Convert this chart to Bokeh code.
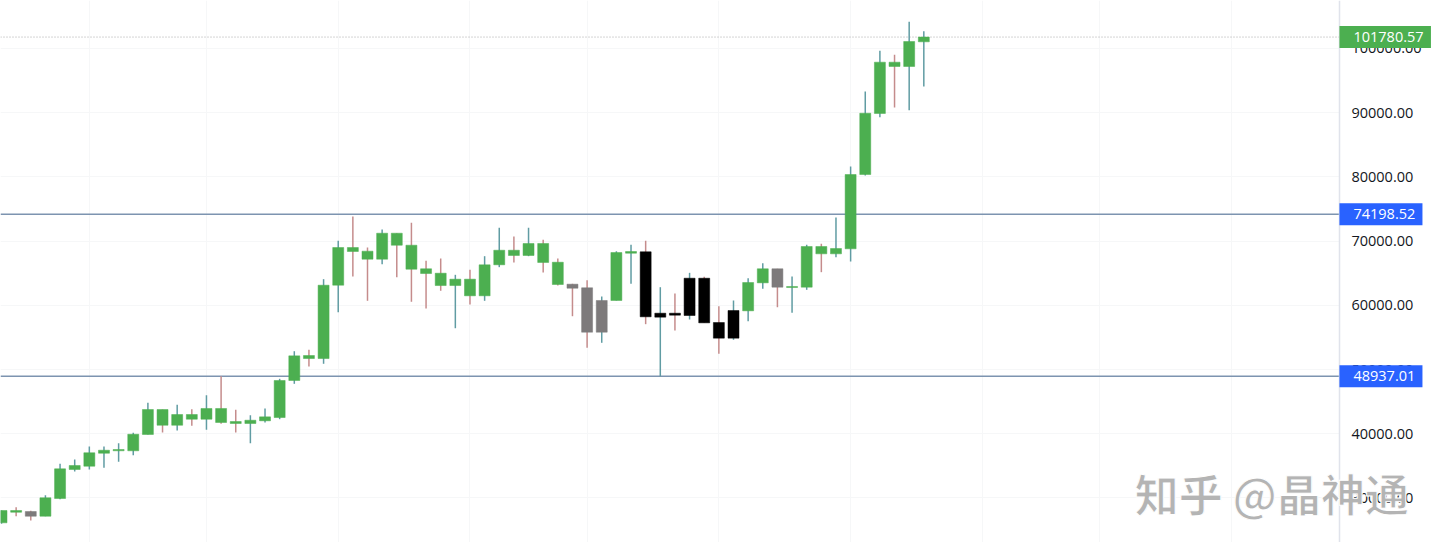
from bokeh.embed import file_html
from bokeh.models import BoxAnnotation, ColumnDataSource, FixedTicker, Label, LinearAxis, NumeralTickFormatter, Range1d, Span
from bokeh.plotting import figure
from bokeh.resources import INLINE

# body bottom / body top / wick high / wick low, one entry per candle
body_low = [26120, 27770, 27150, 27150, 29910, 34430, 34940, 36960, 37340, 37340,
            39880, 41320, 41320, 42260, 42260, 41750, 41590, 41590, 42010, 42520,
            48290, 51710, 51710, 63130, 68380, 67180, 67180, 69360, 65620, 64950,
            63080, 63080, 61480, 61480, 66310, 67760, 67760, 66670, 63240, 62660,
            55810, 55810, 60750, 68120, 58210, 58150, 58460, 58410, 57270, 54880,
            54880, 59140, 63500, 62820, 62770, 62820, 68020, 68020, 68800, 80370,
            89880, 97200, 97200, 101040]
body_high = [28040, 28040, 27880, 30020, 34530, 35050, 37030, 37430, 37540, 39920,
             43770, 43770, 42990, 42990, 43930, 43930, 41900, 42100, 42630, 48290,
             52130, 52180, 63130, 69000, 69000, 68430, 71230, 71230, 69360, 65690,
             65000, 64070, 64070, 66310, 68580, 68580, 69630, 69630, 66710, 63290,
             62730, 60750, 68220, 68380, 68330, 58770, 58770, 64220, 64220, 57320,
             59190, 63550, 65690, 65690, 62930, 69160, 69160, 68850, 80370, 89920,
             97870, 97870, 101090, 101780]
wick_high = [28040, 28550, 27990, 30420, 35310, 35980, 38010, 38010, 38520, 40140,
             44810, 43770, 44500, 43820, 46000, 48950, 43720, 42880, 43930, 48550,
             52850, 53070, 64070, 70050, 73830, 69000, 71810, 71230, 72850, 66930,
             67290, 64750, 65530, 67650, 72070, 70720, 72070, 70200, 67290, 63350,
             63910, 61370, 68430, 69420, 70050, 62820, 61840, 65060, 64440, 59860,
             60750, 64220, 66560, 65690, 64490, 69420, 69580, 73680, 81620, 93300,
             99640, 99020, 104160, 102690]
wick_low = [25970, 27150, 26480, 27150, 29800, 34110, 34430, 34690, 35620, 36650,
            39880, 40190, 40500, 41230, 40610, 41540, 40190, 38520, 41750, 42260,
            47770, 50470, 50890, 58930, 64490, 60700, 66400, 64380, 60550, 59500,
            62260, 56430, 60130, 60700, 65940, 66670, 67650, 65110, 63080, 58300,
            53380, 54160, 60750, 63350, 57060, 48940, 56080, 57790, 57270, 52450,
            54630, 57520, 62570, 59700, 58830, 62410, 65160, 67490, 66820, 80220,
            89300, 90810, 90390, 94080]
gray_candles = [2, 39, 40, 41, 53]
black_candles = [44, 45, 46, 47, 48, 49, 50]
red_wicks = [1, 2, 11, 13, 15, 16, 21, 24, 25, 27, 28, 29, 30, 32, 35, 37, 38, 39, 40,
             44, 46, 48, 49, 53, 56, 61]

price_ticks = [30000, 40000, 50000, 60000, 70000, 80000, 90000, 100000]
time_grid = [6, 14, 23, 32, 40, 49, 58, 67, 75, 84]
last_price = 101780.57
upper_level = 74198.52
lower_level = 48937.01

GREEN = "#4caf50"
BLUE = "#2962ff"
LEVEL = "#7d94b0"
GRID = "#f6f7f8"
FONT = "Open Sans"
AXIS_X = 91.39  # price scale sits over the frame, right of the last bars

idx = list(range(len(body_low)))
body_colors = []
for i in idx:
    if i in gray_candles:
        body_colors.append("#7d7a7b")
    elif i in black_candles:
        body_colors.append("#000000")
    else:
        body_colors.append(GREEN)
wick_colors = ["#c58c8c" if i in red_wicks else "#609ca3" for i in idx]

source = ColumnDataSource(data={
    "i": idx, "low": body_low, "high": body_high,
    "wick_high": wick_high, "wick_low": wick_low,
    "body": body_colors, "wick": wick_colors,
})

p = figure(
    width=1432, height=542,
    x_range=Range1d(-0.0683, 97.746), y_range=Range1d(23055, 107476),
    x_axis_location=None, y_axis_location=None,
    output_backend="svg", toolbar_location=None,
    min_border_left=0, min_border_top=0, min_border_bottom=0, min_border_right=0,
)
p.outline_line_color = None
p.background_fill_color = "white"

axis = LinearAxis(
    ticker=FixedTicker(ticks=price_ticks),
    formatter=NumeralTickFormatter(format="0.00"),
    fixed_location=AXIS_X,
)
axis.axis_line_color = "#e0e3eb"
axis.axis_line_width = 1.5
axis.major_tick_line_color = None
axis.minor_tick_line_color = None
axis.major_label_text_font = FONT
axis.major_label_text_font_size = "14.5px"
axis.major_label_text_color = "#131722"
axis.major_label_standoff = 6
p.add_layout(axis, "right")

p.xgrid.ticker = FixedTicker(ticks=time_grid)
p.ygrid.ticker = FixedTicker(ticks=price_ticks)
p.xgrid.grid_line_color = GRID
p.ygrid.grid_line_color = GRID

for level in (upper_level, lower_level):
    p.add_layout(Span(location=level, dimension="width", line_color=LEVEL,
                      line_width=1.5, level="underlay"))
p.add_layout(Span(location=last_price, dimension="width", line_color="#a9a9a9",
                  line_width=1, line_dash="1 2", level="underlay"))
# no grid or level lines under the price scale
p.add_layout(BoxAnnotation(left=AXIS_X, fill_color="white", fill_alpha=1,
                           line_color=None, level="underlay"))

p.segment("i", "wick_low", "i", "wick_high", source=source, color="wick", line_width=1.5)
p.vbar(x="i", bottom="low", top="high", width=0.75, source=source,
       fill_color="body", line_color="body", line_width=0.5)

# value tags sit above the axis so they hide the tick labels beneath them
p.hbar(y=[last_price, upper_level, lower_level], left=AXIS_X, right=[AXIS_X + 6.25, AXIS_X + 5.67, AXIS_X + 5.67],
       height=3430, fill_color=[GREEN, BLUE, BLUE], line_color=None, level="annotation")
for price in (last_price, upper_level, lower_level):
    p.add_layout(Label(
        x=AXIS_X, y=price, x_offset=14,
        text=f"{price:.2f}", text_color="white", text_font=FONT, text_font_size="14.5px",
        text_baseline="middle", text_align="left", level="overlay",
    ))

p.add_layout(Label(
    x=77.4, y=30840,
    text="知乎 @晶神通", text_color="#b4b4b4", text_font="Noto Sans CJK SC",
    text_font_style="bold", text_font_size="44px", text_baseline="middle", text_align="left",
    level="overlay", text_outline_color="white",
))

open("out.html", "w").write(file_html(p, INLINE))
